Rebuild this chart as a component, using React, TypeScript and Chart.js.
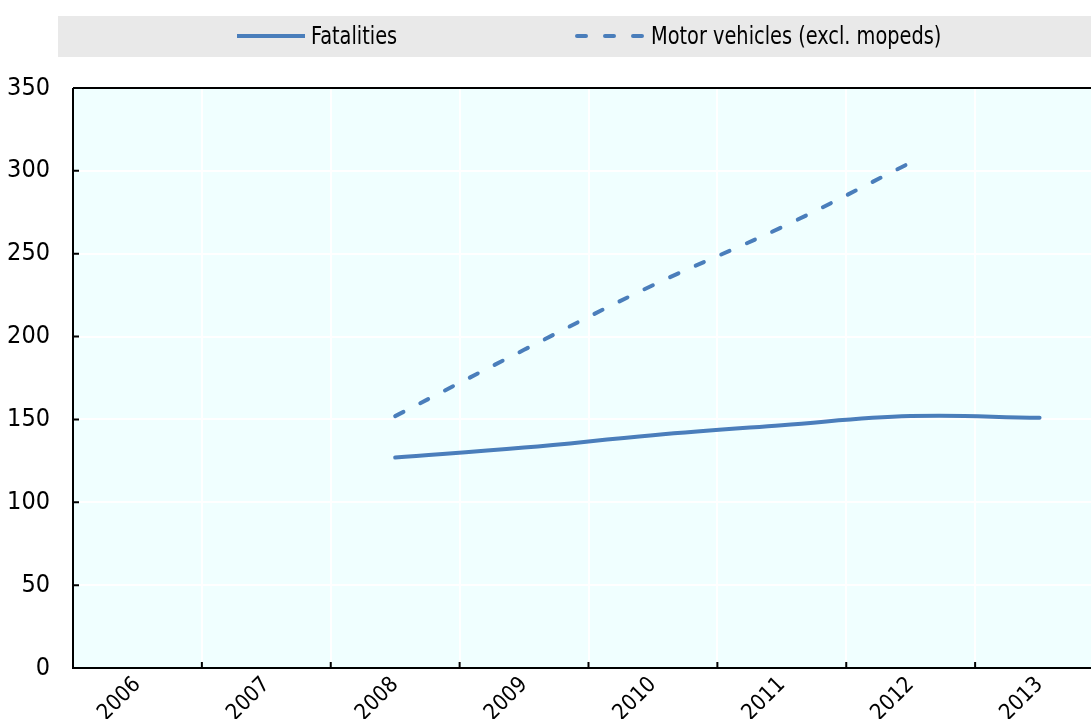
import React, { useEffect, useRef } from "react";
import { Chart, registerables } from "chart.js";

Chart.register(...registerables);

const years = ["2006", "2007", "2008", "2009", "2010", "2011", "2012", "2013"];
const fatalities = [null, null, 127, 133, 140.5, 146.5, 152, 151];
const motorVehicles = [null, null, 152, 192, 231, 266, 305, null];
const seriesLabels = ["Fatalities", "Motor vehicles (excl. mopeds)"];
const yMin = 0;
const yMax = 350;
const yStep = 50;

const FONT = "'Liberation Sans Narrow', 'Arial Narrow', 'DejaVu Sans Condensed', sans-serif";
const BLUE = "#4A7EBB";
const CANVAS_W = 1178;
const CANVAS_H = 719;

const legendLineX = [237, 575];
const legendTextX = [311, 651];
const legendDash: number[][] = [[], [9, 19]];

const decorPlugin = {
  id: "decor",
  beforeDraw(chart: any) {
    const { ctx, chartArea: a } = chart;
    ctx.save();
    ctx.fillStyle = "#E9E9E9";
    ctx.fillRect(58, 16, chart.width - 58, 41);
    ctx.fillStyle = "#F0FFFF";
    ctx.fillRect(a.left, a.top, a.right - a.left, a.bottom - a.top);
    ctx.restore();
  },
  afterDatasetsDraw(chart: any) {
    const { ctx, chartArea: a, scales } = chart;
    ctx.save();
    ctx.strokeStyle = "#000";
    ctx.lineWidth = 2;
    ctx.beginPath();
    ctx.moveTo(a.left, a.top);
    ctx.lineTo(a.right, a.top);
    ctx.moveTo(a.left, a.top);
    ctx.lineTo(a.left, a.bottom);
    ctx.lineTo(a.right, a.bottom);
    const ys = scales.y;
    ys.ticks.forEach((_t: any, i: number) => {
      const y = ys.getPixelForTick(i);
      ctx.moveTo(a.left, y);
      ctx.lineTo(a.left + 6, y);
    });
    const xs = scales.x;
    for (let i = 1; i < years.length; i++) {
      const x = (xs.getPixelForTick(i - 1) + xs.getPixelForTick(i)) / 2;
      ctx.moveTo(x, a.bottom);
      ctx.lineTo(x, a.bottom - 6);
    }
    ctx.stroke();

    // legend
    ctx.font = `25px ${FONT}`;
    ctx.textBaseline = "middle";
    ctx.textAlign = "left";
    chart.data.datasets.forEach((ds: any, i: number) => {
      const x0 = legendLineX[i];
      const y0 = 36;
      ctx.strokeStyle = BLUE;
      ctx.lineWidth = 4;
      ctx.lineCap = i === 1 ? "round" : "butt";
      ctx.setLineDash(legendDash[i]);
      ctx.beginPath();
      ctx.moveTo(x0 + (i === 1 ? 2 : 0), y0);
      ctx.lineTo(x0 + 68, y0);
      ctx.stroke();
      ctx.setLineDash([]);
      ctx.fillStyle = "#000";
      ctx.save();
      ctx.translate(legendTextX[i], y0 + 1);
      ctx.scale(0.86, 1);
      ctx.fillText(ds.label, 0, 0);
      ctx.restore();
    });
    ctx.restore();
  },
};

export default function App() {
  const ref = useRef<HTMLCanvasElement>(null);
  useEffect(() => {
    if (!ref.current) return;
    const chart = new Chart(ref.current, {
      type: "line",
      data: {
        labels: years,
        datasets: [
          {
            label: seriesLabels[0],
            data: fatalities,
            borderColor: BLUE,
            backgroundColor: BLUE,
            borderWidth: 4,
            pointRadius: 0,
            tension: 0.4,
            borderCapStyle: "round",
          },
          {
            label: seriesLabels[1],
            data: motorVehicles,
            borderColor: BLUE,
            backgroundColor: BLUE,
            borderWidth: 4,
            borderDash: [9, 19],
            borderCapStyle: "round",
            pointRadius: 0,
            tension: 0.4,
          },
        ],
      },
      options: {
        animation: false,
        responsive: false,
        maintainAspectRatio: false,
        layout: { padding: { top: 88, right: CANVAS_W - 1104, bottom: 0, left: 0 } },
        plugins: {
          legend: { display: false },
          tooltip: { enabled: false },
        },
        scales: {
          x: {
            type: "category",
            offset: true,
            grid: { offset: true, color: "#FFFFFF", lineWidth: 2, drawTicks: false },
            border: { display: false },
            ticks: {
              minRotation: 45,
              maxRotation: 45,
              color: "#000",
              padding: 4,
              font: { family: FONT, size: 22 },
            },
            afterFit: (s: any) => {
              s.height = 51;
            },
          },
          y: {
            min: yMin,
            max: yMax,
            grid: { color: "#FFFFFF", lineWidth: 2, drawTicks: false },
            border: { display: false },
            ticks: {
              stepSize: yStep,
              color: "#000",
              padding: 23,
              font: { family: FONT, size: 25 },
            },
            afterFit: (s: any) => {
              s.width = 73;
            },
          },
        },
      },
      plugins: [decorPlugin],
    });
    return () => chart.destroy();
  }, []);

  return (
    <div
      style={{
        position: "fixed",
        left: 0,
        top: 0,
        width: 1091,
        height: 719,
        overflow: "hidden",
        background: "#fff",
      }}
    >
      <canvas ref={ref} width={CANVAS_W} height={CANVAS_H} style={{ display: "block" }} />
    </div>
  );
}
